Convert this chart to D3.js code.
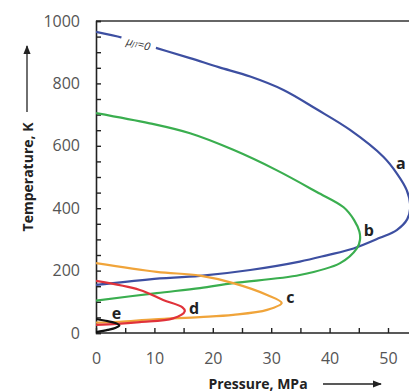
<!DOCTYPE html>
<html>
<head>
<meta charset="utf-8">
<script src="https://cdn.jsdelivr.net/npm/d3@7"></script>
<style>
  body { margin: 0; background: #fff; }
  svg { display: block; font-family: "Open Sans", sans-serif; }
</style>
</head>
<body>
<svg id="chart" width="409" height="392"></svg>
<script>
// Joule-Thomson inversion curves, pressure (MPa) vs temperature (K)
const aP = [0, 4.6, 10.4, 16.1, 21, 26.4, 32.1, 37.8, 43.5, 49.2, 51.5, 53.2, 53.8, 53.3, 51.5, 48.6, 44.1, 39.5, 34.9, 26.4, 17.8, 9.2, 0];
const aT = [965, 946, 913, 881, 852, 822, 779, 717, 651, 565, 512, 458, 405, 365, 330, 305, 271, 249, 229, 202, 183, 172, 154];
const bP = [0, 9.2, 16.1, 23.5, 30.9, 37.8, 42.4, 44.2, 45.1, 45.2, 44.7, 41.8, 34.9, 23.5, 17.8, 10.4, 0];
const bT = [705, 672, 640, 587, 522, 452, 403, 362, 325, 298, 272, 224, 186, 160, 144, 128, 104];
const cP = [0, 10.4, 17.8, 23.5, 29.3, 31.8, 29.3, 23.5, 17.8, 10, 4, 0];
const cT = [224, 196, 184, 160, 122, 96, 74, 58, 51, 44, 36, 33];
const dP = [0, 7.5, 11.5, 14.8, 15.2, 13.2, 7.5, 3.6, 0];
const dT = [167, 138, 106, 82, 70, 47, 35, 29, 26];
const eP = [0, 2, 3.6, 4, 3.4, 2, 0];
const eT = [45, 38, 30, 24, 17, 10, 3];

const curveNames = ["a", "b", "c", "d", "e"];
const curveColors = ["#3d4fa1", "#3aae4f", "#f0a43a", "#e0323a", "#111111"];
const labelP = [52.2, 46.7, 33.3, 16.8, 3.5];
const labelT = [545, 330, 116, 80, 65];

const xTicks = d3.range(0, 56, 5);
const yTicks = d3.range(0, 1001, 50);

const svg = d3.select("#chart");

const x = d3.scaleLinear().domain([0, 50]).range([96, 388]);
const y = d3.scaleLinear().domain([0, 1000]).range([333, 21]);

// frame top line
svg.append("line")
    .attr("x1", x(0)).attr("x2", 409)
    .attr("y1", y(1000)).attr("y2", y(1000))
    .attr("stroke", "#333").attr("stroke-width", 1.5);

// axes (ticks point inside)
const yAxis = svg.append("g")
    .attr("transform", `translate(${x(0)},0)`)
    .call(d3.axisLeft(y)
        .tickValues(yTicks)
        .tickSize(-5)
        .tickPadding(16)
        .tickFormat(d => d % 200 === 0 ? d : ""));

const xAxis = svg.append("g")
    .attr("transform", `translate(0,${y(0)})`)
    .call(d3.axisBottom(x)
        .tickValues(xTicks)
        .tickSize(-5)
        .tickPadding(20)
        .tickFormat(d => d % 10 === 0 ? d : ""));

xAxis.select(".domain").attr("d", `M${x(0)},0H409`);

[xAxis, yAxis].forEach(g => {
    g.select(".domain").attr("stroke", "#222").attr("stroke-width", 1.6);
    g.selectAll(".tick line").attr("stroke", "#222").attr("stroke-width", 1.4);
    g.selectAll(".tick text")
        .attr("fill", "#555")
        .style("font-size", "16px")
        .style("font-family", "Open Sans, sans-serif");
});

// curves
const line = d3.line()
    .x(d => x(d[0]))
    .y(d => y(d[1]))
    .curve(d3.curveCatmullRom.alpha(0.5));

const series = [[aP, aT], [bP, bT], [cP, cT], [dP, dT], [eP, eT]];

svg.append("defs").append("clipPath").attr("id", "clip")
    .append("rect").attr("x", x(0)).attr("y", y(1000))
    .attr("width", 409 - x(0)).attr("height", y(0) - y(1000));

const plot = svg.append("g").attr("clip-path", "url(#clip)");

// draw back to front so the small curves sit on top
series.forEach((s, i) => {
    plot.append("path")
        .datum(s[0].map((p, j) => [p, s[1][j]]))
        .attr("fill", "none")
        .attr("stroke", curveColors[i])
        .attr("stroke-width", 2.2)
        .attr("d", line);
});

// curve letters
svg.selectAll(".curve-label")
    .data(curveNames)
    .enter().append("text")
    .attr("class", "curve-label")
    .attr("x", (d, i) => x(labelP[i]))
    .attr("y", (d, i) => y(labelT[i]))
    .attr("text-anchor", "middle")
    .attr("dominant-baseline", "central")
    .attr("fill", "#222")
    .style("font-size", "16px")
    .style("font-weight", "bold")
    .text(d => d);

// mu_JT = 0 tag on curve a
const mu = svg.append("g")
    .attr("transform", `translate(${x(7.3)},${y(930)}) rotate(15)`);
mu.append("rect")
    .attr("x", -18).attr("y", -7).attr("width", 36).attr("height", 13)
    .attr("fill", "#fff");
const muText = mu.append("text")
    .attr("text-anchor", "middle")
    .attr("dominant-baseline", "central")
    .attr("fill", "#333")
    .style("font-size", "11px")
    .style("font-style", "italic");
muText.append("tspan").text("μ");
muText.append("tspan").attr("dy", 2).style("font-size", "7px").text("JT");
muText.append("tspan").attr("dy", -2).text("=0");

// axis titles with arrows
svg.append("defs").append("marker")
    .attr("id", "arrow")
    .attr("viewBox", "0 0 10 10")
    .attr("refX", 9).attr("refY", 5)
    .attr("markerWidth", 7).attr("markerHeight", 7)
    .attr("orient", "auto")
    .append("path").attr("d", "M0,1L10,5L0,9Z").attr("fill", "#222");

svg.append("text")
    .attr("transform", "translate(27,177) rotate(-90)")
    .attr("text-anchor", "middle")
    .attr("dominant-baseline", "central")
    .attr("fill", "#222")
    .style("font-size", "14px")
    .style("font-weight", "bold")
    .text("Temperature, K");

svg.append("line")
    .attr("x1", 27).attr("x2", 27)
    .attr("y1", 112).attr("y2", 46)
    .attr("stroke", "#222").attr("stroke-width", 1.3)
    .attr("marker-end", "url(#arrow)");

svg.append("text")
    .attr("x", 258).attr("y", 383)
    .attr("text-anchor", "middle")
    .attr("dominant-baseline", "central")
    .attr("fill", "#222")
    .style("font-size", "14px")
    .style("font-weight", "bold")
    .text("Pressure, MPa");

svg.append("line")
    .attr("x1", 323).attr("x2", 381)
    .attr("y1", 384).attr("y2", 384)
    .attr("stroke", "#222").attr("stroke-width", 1.3)
    .attr("marker-end", "url(#arrow)");
</script>
</body>
</html>
